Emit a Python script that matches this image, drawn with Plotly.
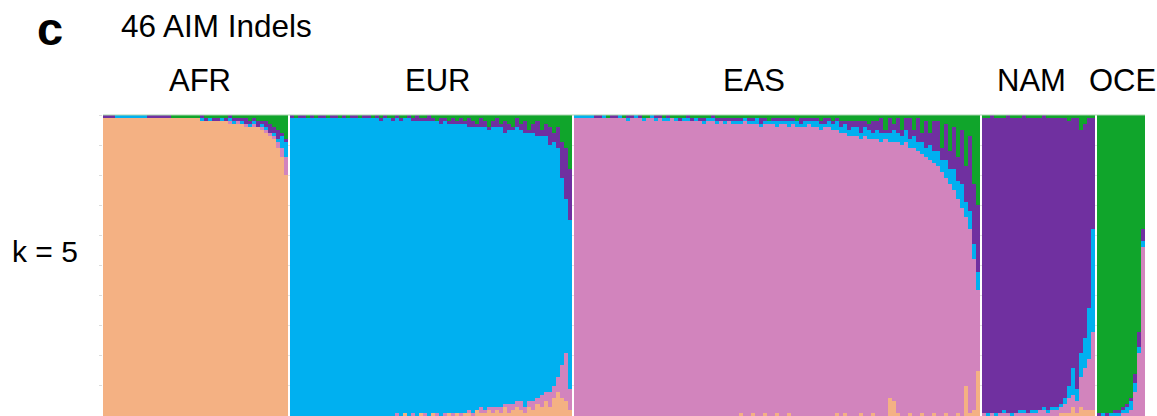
import plotly.graph_objects as go

# ---------------- DATA (ancestry proportions, percent) ----------------
groups = ["AFR", "EUR", "EAS", "NAM", "OCE"]
# stacking order of the K=5 clusters, bottom -> top
clusters = ["AFR", "EAS", "EUR", "NAM", "OCE"]
colors = {"AFR": "#F4B183", "EAS": "#D284BD", "EUR": "#00B0F0",
          "NAM": "#7030A0", "OCE": "#10A52B"}

# --- AFR individuals (blocks) ---
afr_afr = [99,99,99,99,99,99,99,99,99,99, 99,99,99,99,99,99,99,99,99,99,
           99,99,99,99,98,98,98,98,98,98, 98,97,97,97,97,96,96,96,96,95,
           94,93,92,89,86,80]
afr_eas = [0,0,0,0,0,0,0,0,0,0, 0,0,0,0,0,0,0,0,0,0,
           0,0,0,0,0,0,0,0,0,0, 0,1,0,1,0,1,0,1,0,1,
           1,1,1,2,3,6]
afr_eur = [0,0,0,1,1,1,1,1,1,1, 1,0,0,0,0,0,0,0,0,0,
           0,0,0,0,1,0,1,0,0,1, 0,1,1,0,1,0,1,1,0,1,
           1,0,1,1,4,5]
afr_nam = [1,1,1,0,0,0,0,0,0,0, 0,1,1,1,1,1,1,0,0,0,
           0,0,0,0,1,1,0,1,1,0, 1,1,1,1,1,2,1,1,2,1,
           2,3,2,3,1,1]
afr_oce = [0,0,0,0,0,0,0,0,0,0, 0,0,0,0,0,0,0,1,1,1,
           1,1,1,1,0,1,1,1,1,1, 1,0,1,1,1,1,2,1,2,2,
           2,3,4,5,6,8]

# --- EUR individuals ---
eur_eur = [99,99,99,99,99,99,99,99,99,99, 100,99,99,99,99,99,99,99,99,99,
           99,99,98,99,99,98,98,98,98,99, 97,98,97,97,98,97,97,97,97,96,
           96,96,96,96,94,95,94,93,94,92, 93,93,93,90,91,91,91,90,91,89,
           89,87,86,85,82,81,76,62,51,56]
eur_nam = [1,0,1,1,0,1,0,1,1,0, 1,1,0,1,0,1,1,0,1,1,
           0,1,1,1,0,1,1,1,0,1, 1,2,1,1,2,1,0,2,1,1,
           2,1,2,1,3,2,1,3,2,1, 2,3,1,4,2,1,3,2,4,1,
           3,5,2,4,6,3,7,12,17,17]
eur_oce = [0,1,0,0,1,0,1,0,0,1, 0,0,1,0,1,0,0,1,0,0,
           1,0,1,0,1,1,0,1,1,0, 1,0,1,1,0,1,2,1,1,2,
           1,2,1,2,1,2,3,1,2,4, 2,1,3,2,3,4,1,3,2,5,
           3,2,5,3,4,6,4,9,11,18]
eur_afr = [0,0,0,0,0,0,0,0,0,0, 0,0,0,0,0,0,0,0,0,0,
           0,0,0,0,0,0,0,0,1,0, 0,0,1,0,0,1,0,0,0,1,
           0,1,0,1,1,0,2,1,1,2, 1,2,1,3,1,2,3,2,1,3,
           2,4,3,5,3,6,8,6,5,2]
eur_eas = [0,0,0,0,0,0,0,0,0,0, 0,0,0,0,0,0,0,0,0,0,
           0,0,0,0,0,0,1,0,0,0, 1,0,0,1,0,0,1,0,1,0,
           1,0,1,0,1,1,0,2,1,1, 2,1,2,1,3,2,2,3,2,2,
           3,2,4,3,5,4,5,11,16,7]

# --- EAS individuals ---
eas_eas = [99,99,99,99,99,99,99,99,99,99, 99,99,99,98,99,99,99,98,99,99,
           98,99,98,98,99,98,98,98,98,98, 98,98,97,98,98,97,98,97,98,97,
           97,96,98,97,96,97,96,96,97,97, 95,97,97,95,97,96,96,96,97,96,
           96,95,96,96,95,94,94,93,93,93, 93,91,93,92,91,92,91,92,85,86,
           90,90,91,88,89,88,86,86,85,83, 83,81,78,77,75,71,69,56,61,50,
           27]
eas_afr = [0,0,0,0,0,0,0,0,0,0, 0,0,0,0,0,0,0,0,0,0,
           0,0,0,0,0,0,0,0,0,0, 0,0,0,0,0,0,0,0,0,0,
           0,1,0,0,1,0,0,1,0,0, 1,0,0,1,0,0,0,0,0,0,
           0,0,0,0,0,1,0,1,0,0, 0,1,0,0,1,0,0,0,6,5,
           1,0,0,1,0,0,1,0,0,1, 0,0,1,0,0,1,0,10,1,2,
           15]
eas_eur = [1,1,1,1,1,0,0,1,0,0, 0,1,0,1,0,1,0,1,0,1,
           1,0,1,1,0,1,0,1,1,0, 1,0,1,1,1,1,0,1,0,1,
           1,1,1,1,1,2,1,1,1,1, 2,1,1,2,1,2,1,2,1,2,
           2,2,1,2,2,3,2,3,2,3, 3,2,3,3,2,3,3,2,3,4,
           3,3,4,3,4,3,4,3,5,4, 5,4,6,5,7,6,8,5,6,5,
           6]
eas_nam = [0,0,0,0,0,1,1,0,0,1, 1,0,0,1,1,0,1,0,0,0,
           1,1,0,1,0,0,1,0,1,1, 0,1,1,0,1,1,1,1,1,1,
           1,1,0,1,1,0,2,1,0,1, 1,1,1,1,1,0,2,1,1,1,
           1,1,2,1,1,1,2,1,3,2, 2,4,2,2,4,3,5,1,5,2,
           5,2,4,7,2,8,3,9,4,10, 10,4,12,6,14,8,18,12,25,20,
           22]
eas_oce = [0,0,0,0,0,0,0,0,1,0, 0,0,1,0,0,0,0,1,1,0,
           0,0,1,0,1,1,1,1,0,1, 1,1,1,1,0,1,1,1,1,1,
           1,1,1,1,1,1,1,1,2,1, 1,1,1,1,1,2,1,1,1,1,
           1,2,1,1,2,1,2,2,2,2, 2,2,2,3,2,2,1,5,1,3,
           1,5,1,1,5,1,6,2,6,2, 2,11,3,12,4,14,5,17,7,23,
           30]

# --- NAM individuals ---
nam_nam = [98,98,99,98,98,97,99,98,98,97, 98,98,97,97,97,97,97,96,96,95,
           93,88,83,90,74,71,63,37]
nam_oce = [1,1,0,1,1,1,0,1,1,1, 0,1,1,1,1,0,1,1,1,1,
           1,2,1,1,5,3,1,1]
nam_eur = [0,1,0,1,0,1,0,1,0,1, 1,0,1,1,0,1,1,1,1,1,
           2,4,9,4,8,10,17,34]
nam_eas = [1,0,1,0,1,1,1,0,1,1, 1,1,1,1,2,2,1,2,2,2,
           3,5,4,4,10,14,17,26]
nam_afr = [0,0,0,0,0,0,0,0,0,0, 0,0,0,0,0,0,0,0,0,1,
           1,1,3,1,3,2,2,2]

# --- OCE individuals ---
oce_oce = [99,99,99,99,98,98,97,96,94,86,72,38]
oce_nam = [1,0,1,0,1,1,1,1,1,3,5,4]
oce_eur = [0,1,0,1,1,1,1,2,3,3,2,2]
oce_eas = [0,0,0,0,0,0,1,1,2,8,21,56]
oce_afr = [0,0,0,0,0,0,0,0,0,0,0,0]

data = {
    "AFR": {"AFR": afr_afr, "EAS": afr_eas, "EUR": afr_eur, "NAM": afr_nam, "OCE": afr_oce},
    "EUR": {"AFR": eur_afr, "EAS": eur_eas, "EUR": eur_eur, "NAM": eur_nam, "OCE": eur_oce},
    "EAS": {"AFR": eas_afr, "EAS": eas_eas, "EUR": eas_eur, "NAM": eas_nam, "OCE": eas_oce},
    "NAM": {"AFR": nam_afr, "EAS": nam_eas, "EUR": nam_eur, "NAM": nam_nam, "OCE": nam_oce},
    "OCE": {"AFR": oce_afr, "EAS": oce_eas, "EUR": oce_eur, "NAM": oce_nam, "OCE": oce_oce},
}

title_text = "46 AIM Indels"
panel_letter = "c"
k_label = "k = 5"

# ---------------- BUILD ----------------
GAP = 0.5
xs = []
vals = {c: [] for c in clusters}
edge = -0.5
for g in groups:
    n = len(data[g]["AFR"])
    for i in range(n):
        xs.append(edge + 0.5 + i)
        tot = sum(data[g][c][i] for c in clusters)
        for c in clusters:
            vals[c].append(data[g][c][i] / tot)
    edge = edge + n + GAP
x_end = edge - GAP

fig = go.Figure()
for c in clusters:
    fig.add_trace(go.Bar(
        x=xs, y=vals[c], width=1.0,
        marker=dict(color=colors[c], line=dict(width=0)),
        showlegend=False, hoverinfo="skip", name=c))

L, R, T, B = 103, 12, 115, 0
W, H = 1157, 416
pw, ph = W - L - R, H - T - B

def px(x):
    return (x - L) / pw

def py(y):
    return (H - B - y) / ph

FONT = "Liberation Sans, Arial, sans-serif"
ann = [
    dict(text="<b>" + panel_letter + "</b>", x=px(50), y=py(29), size=47),
    dict(text=title_text, x=px(119), y=py(26), size=31.5, xanchor="left"),
    dict(text=k_label, x=px(45), y=py(251), size=30),
]
label_x = {"AFR": 200, "EUR": 437, "EAS": 754, "NAM": 1031, "OCE": 1122}
for g in groups:
    ann.append(dict(text=g, x=px(label_x[g]), y=py(81), size=31))

annotations = []
for a in ann:
    annotations.append(dict(
        text=a["text"], x=a["x"], y=a["y"], xref="paper", yref="paper",
        xanchor=a.get("xanchor", "center"), yanchor="middle", showarrow=False,
        font=dict(family=FONT, size=a["size"], color="black")))

fig.update_layout(
    width=W, height=H,
    margin=dict(l=L, r=R, t=T, b=B, pad=0),
    paper_bgcolor="white", plot_bgcolor="white",
    barmode="stack", bargap=0, bargroupgap=0,
    xaxis=dict(range=[-0.5, x_end], showgrid=False, zeroline=False,
               showticklabels=False, ticks="", showline=False, fixedrange=True),
    yaxis=dict(range=[0, 1], dtick=0.1, showgrid=True, gridcolor="#e4e4e4",
               gridwidth=1, zeroline=False, showticklabels=False,
               ticks="outside", ticklen=3, tickcolor="#dddddd",
               showline=False, fixedrange=True),
    annotations=annotations,
    shapes=[dict(type="line", xref="paper", yref="paper", x0=0, x1=1, y0=1, y1=1,
                 line=dict(color="#a9d6ae", width=1), layer="above")],
)

fig.write_html("out.html")
